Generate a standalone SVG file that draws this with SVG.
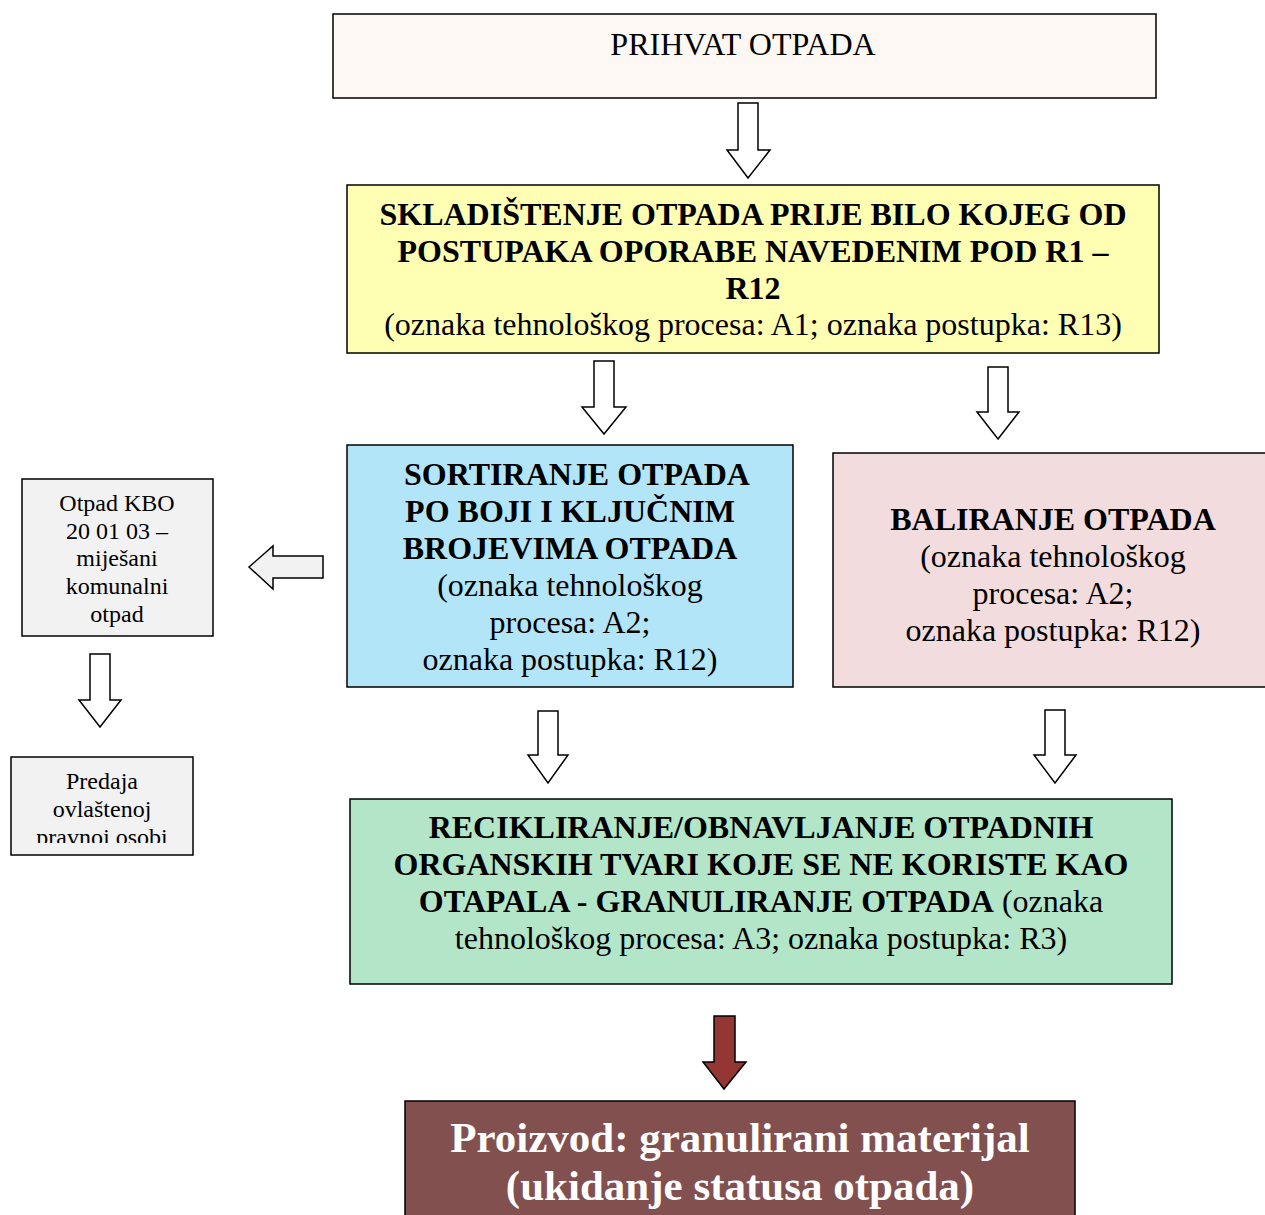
<svg xmlns="http://www.w3.org/2000/svg" width="1265" height="1215" viewBox="0 0 1265 1215">
<style>
.box{stroke:#000;stroke-width:1.5}
.t{font-family:"Liberation Serif","Times New Roman",serif;text-anchor:middle;fill:#000}
.m{font-size:32px}
.s{font-size:24px}
.b{font-weight:bold}
.arr{fill:#fff;stroke:#000;stroke-width:1.5}
.arrg{fill:#f2f2f2;stroke:#000;stroke-width:1.5}
</style>
<defs>
<clipPath id="clipP"><rect x="11" y="757" width="182" height="86"/></clipPath>
</defs>
<rect width="1265" height="1215" fill="#fff"/>
<g id="connectors">
<path class="arr" d="M738,103 H758 V150 H770 L748,178 L727,150 H738 Z"/>
<path class="arr" d="M594,361 H614 V407 H626 L604,434 L582,407 H594 Z"/>
<path class="arr" d="M988,367 H1008 V412 H1019 L998,439 L977,412 H988 Z"/>
<path class="arrg" d="M323,556 V578 H273 V589 L249,567 L273,546 V556 Z"/>
<path class="arr" d="M90,654 H110 V700 H121 L100,727 L79,700 H90 Z"/>
<path class="arr" d="M538,711 H558 V755 H568 L548,783 L528,755 H538 Z"/>
<path class="arr" d="M1045,710 H1065 V755 H1076 L1055,783 L1034,755 H1045 Z"/>
<path fill="#943634" stroke="#000" stroke-width="1.5" d="M714,1016 H735 V1062 H746 L724,1089 L703,1062 H714 Z"/>
</g>
<g id="prihvat">
<rect class="box" x="333" y="14" width="823" height="84" fill="#fdf8f3"/>
<text class="t" x="743" y="55" font-size="32">PRIHVAT OTPADA</text>
</g>
<g id="skladistenje">
<rect class="box" x="347" y="185" width="812" height="168" fill="#ffffb3"/>
<text class="t m b" x="753" y="225">SKLADIŠTENJE OTPADA PRIJE BILO KOJEG OD</text>
<text class="t m b" x="753" y="262">POSTUPAKA OPORABE NAVEDENIM POD R1 –</text>
<text class="t m b" x="753" y="299">R12</text>
<text class="t m" x="753" y="335">(oznaka tehnološkog procesa: A1; oznaka postupka: R13)</text>
</g>
<g id="sortiranje">
<rect class="box" x="347" y="445" width="446" height="242" fill="#b3e5f8"/>
<text class="t m b" x="577" y="485">SORTIRANJE OTPADA</text>
<text class="t m b" x="570" y="522">PO BOJI I KLJUČNIM</text>
<text class="t m b" x="570" y="559">BROJEVIMA OTPADA</text>
<text class="t m" x="570" y="596">(oznaka tehnološkog</text>
<text class="t m" x="570" y="633">procesa: A2;</text>
<text class="t m" x="570" y="670">oznaka postupka: R12)</text>
</g>
<g id="baliranje">
<rect class="box" x="833" y="453" width="440" height="234" fill="#f2dcdd"/>
<text class="t m b" x="1053" y="530">BALIRANJE OTPADA</text>
<text class="t m" x="1053" y="567">(oznaka tehnološkog</text>
<text class="t m" x="1053" y="604">procesa: A2;</text>
<text class="t m" x="1053" y="641">oznaka postupka: R12)</text>
</g>
<g id="kbo">
<rect class="box" x="22" y="479" width="191" height="157" fill="#f2f2f2" stroke-width="1"/>
<text class="t s" x="117" y="511">Otpad KBO</text>
<text class="t s" x="117" y="539">20 01 03 –</text>
<text class="t s" x="117" y="566">miješani</text>
<text class="t s" x="117" y="594">komunalni</text>
<text class="t s" x="117" y="622">otpad</text>
</g>
<g id="predaja">
<rect class="box" x="11" y="757" width="182" height="98" fill="#f2f2f2" stroke-width="1"/>
<g clip-path="url(#clipP)">
<text class="t s" x="102" y="789">Predaja</text>
<text class="t s" x="102" y="817">ovlaštenoj</text>
<text class="t s" x="102" y="845">pravnoj osobi</text>
</g>
</g>
<g id="recikliranje">
<rect class="box" x="350" y="799" width="822" height="185" fill="#b3e6c8"/>
<text class="t m b" x="761" y="838">RECIKLIRANJE/OBNAVLJANJE OTPADNIH</text>
<text class="t m b" x="761" y="875">ORGANSKIH TVARI KOJE SE NE KORISTE KAO</text>
<text class="t m" x="761" y="912"><tspan font-weight="bold">OTAPALA - GRANULIRANJE OTPADA</tspan> (oznaka</text>
<text class="t m" x="761" y="949">tehnološkog procesa: A3; oznaka postupka: R3)</text>
</g>
<g id="proizvod">
<rect class="box" x="405" y="1101" width="670" height="120" fill="#82504f"/>
<text class="t b" x="740" y="1152" font-size="43" style="fill:#fff">Proizvod: granulirani materijal</text>
<text class="t b" x="740" y="1200" font-size="43" style="fill:#fff">(ukidanje statusa otpada)</text>
</g>
</svg>
